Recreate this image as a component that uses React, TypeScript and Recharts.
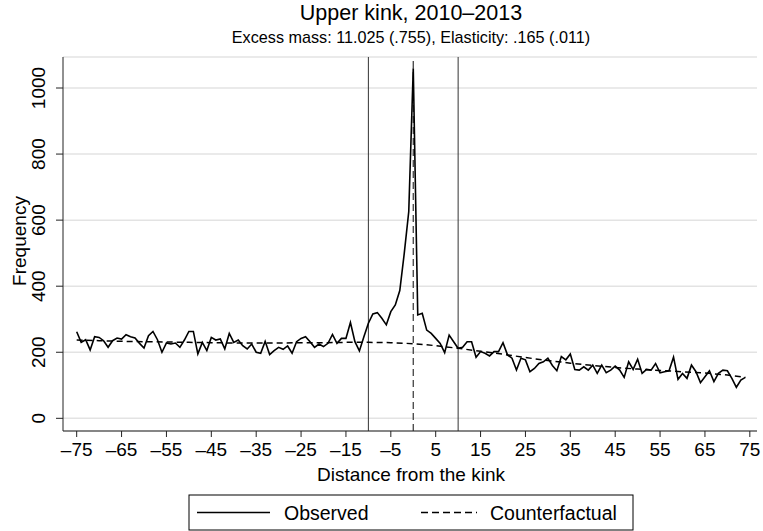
import React from 'react';
import { LineChart, Line, XAxis, YAxis, CartesianGrid, ReferenceLine } from 'recharts';

// ---- Data ----
const binStart = -75;
const observedFreq = [
  262, 230, 238, 207, 247, 245, 235, 215, 235, 243,
  240, 253, 247, 243, 227, 213, 250, 263, 238, 200,
  228, 225, 228, 215, 237, 263, 263, 195, 230, 205,
  245, 237, 240, 210, 257, 230, 237, 220, 210, 225,
  200, 197, 233, 193, 205, 215, 209, 219, 197, 232,
  242, 247, 232, 215, 225, 217, 227, 254, 227, 242,
  242, 290, 232, 204, 247, 288, 316, 320, 303, 283,
  323, 343, 387, 500, 626, 1060, 313, 318, 267, 257,
  242, 227, 199, 252, 232, 212, 215, 232, 232, 185,
  202, 197, 189, 202, 202, 229, 192, 182, 146, 182,
  177, 141, 151, 166, 171, 182, 160, 144, 187, 177,
  195, 148, 146, 156, 146, 161, 136, 161, 138, 146,
  158, 146, 124, 171, 148, 179, 136, 148, 146, 166,
  138, 141, 144, 185, 118, 136, 121, 161, 141, 108,
  126, 144, 111, 136, 146, 144, 121, 94, 116, 124,
];
const cfBins = [-75, -70, -65, -60, -55, -50, -45, -40, -35, -30, -25, -20, -15, -10, -5, 0, 5, 10, 15, 20, 25, 30, 35, 40, 45, 50, 55, 60, 65, 70, 74];
const cfFreq = [237, 235, 233, 232, 231, 230, 229, 228, 228, 228, 229, 229, 230, 230, 229, 226, 220, 212, 203, 194, 184, 175, 167, 160, 154, 149, 145, 141, 137, 131, 124];
const xTicks = [-75, -65, -55, -45, -35, -25, -15, -5, 5, 15, 25, 35, 45, 55, 65, 75];
const yTicks = [0, 200, 400, 600, 800, 1000];
const boundLines = [-10, 10];
const kinkLine = 0;
const titleText = 'Upper kink, 2010–2013';
const subtitleText = 'Excess mass: 11.025 (.755), Elasticity: .165 (.011)';
const xTitle = 'Distance from the kink';
const yTitle = 'Frequency';
const legendNames = ['Observed', 'Counterfactual'];

const obsData = observedFreq.map((y, i) => ({ x: binStart + i, y }));
const cfData = cfBins.map((x, i) => ({ x, y: cfFreq[i] }));

const FONT = '"Liberation Sans", Arial, Helvetica, sans-serif';
const W = 763;
const H = 531;
const TICK_FS = 19;
const AXIS_FS = 19;
const LEG_FS = 19.5;

const fmtX = (v: number) => (v < 0 ? '\u2013' + Math.abs(v) : String(v));

const XTick = (props: any) => {
  const { x, payload } = props;
  return (
    <text x={x} y={449} textAnchor="middle" dominantBaseline="central" fontSize={TICK_FS} fill="#000" fontFamily={FONT}>
      {fmtX(payload.value)}
    </text>
  );
};

const YTick = (props: any) => {
  const { y, payload } = props;
  const cx = 39;
  return (
    <text x={cx} y={y} transform={`rotate(-90 ${cx} ${y})`} textAnchor="middle" dominantBaseline="central" fontSize={TICK_FS} fill="#000" fontFamily={FONT}>
      {payload.value}
    </text>
  );
};

export default function App() {
  return (
    <div style={{ position: 'absolute', left: 0, top: 0, width: W, height: H, background: '#fff', fontFamily: FONT }}>
      <LineChart width={W} height={H} margin={{ top: 57, right: 6, bottom: 0, left: 0 }}>
        <CartesianGrid vertical={false} stroke="#e3e3e3" strokeWidth={1.5} />
        <XAxis
          type="number"
          dataKey="x"
          domain={[-78.05, 76.6]}
          allowDataOverflow
          ticks={xTicks}
          interval={0}
          height={100}
          tickSize={6}
          tick={<XTick />}
          stroke="#222"
          tickLine={{ stroke: '#222' }}
        />
        <YAxis
          type="number"
          domain={[-38.4, 1093.9]}
          allowDataOverflow
          ticks={yTicks}
          interval={0}
          width={63}
          tickSize={7}
          tick={<YTick />}
          stroke="#222"
          tickLine={{ stroke: '#222' }}
        />
        {boundLines.map((v) => (
          <ReferenceLine key={v} x={v} stroke="#333" strokeWidth={1} />
        ))}
        <ReferenceLine x={kinkLine} stroke="#333" strokeWidth={1.2} strokeDasharray="7 4" />
        <Line data={cfData} dataKey="y" type="linear" stroke="#000" strokeWidth={1.5} strokeDasharray="6 4" dot={false} isAnimationActive={false} />
        <Line data={obsData} dataKey="y" type="linear" stroke="#000" strokeWidth={1.6} dot={false} isAnimationActive={false} />
      </LineChart>
      <svg width={W} height={H} style={{ position: 'absolute', left: 0, top: 0, pointerEvents: 'none' }}>
        <text x={411} y={13} textAnchor="middle" dominantBaseline="central" fontSize={21.5} fontFamily={FONT} fill="#000">{titleText}</text>
        <text x={411} y={36.5} textAnchor="middle" dominantBaseline="central" fontSize={16.2} fontFamily={FONT} fill="#000">{subtitleText}</text>
        <text x={19} y={241} transform="rotate(-90 19 241)" textAnchor="middle" dominantBaseline="central" fontSize={AXIS_FS} fontFamily={FONT} fill="#000">{yTitle}</text>
        <text x={411} y={474} textAnchor="middle" dominantBaseline="central" fontSize={AXIS_FS} fontFamily={FONT} fill="#000">{xTitle}</text>
        <rect x={189} y={495} width={444} height={35} fill="#fff" stroke="#000" strokeWidth={1} />
        <line x1={197} y1={512.5} x2={270} y2={512.5} stroke="#000" strokeWidth={1.6} />
        <text x={284} y={512.5} dominantBaseline="central" fontSize={LEG_FS} fontFamily={FONT} fill="#000">{legendNames[0]}</text>
        <line x1={421} y1={512.5} x2={477} y2={512.5} stroke="#000" strokeWidth={1.5} strokeDasharray="7 4" />
        <text x={490} y={512.5} dominantBaseline="central" fontSize={LEG_FS} fontFamily={FONT} fill="#000">{legendNames[1]}</text>
      </svg>
    </div>
  );
}
